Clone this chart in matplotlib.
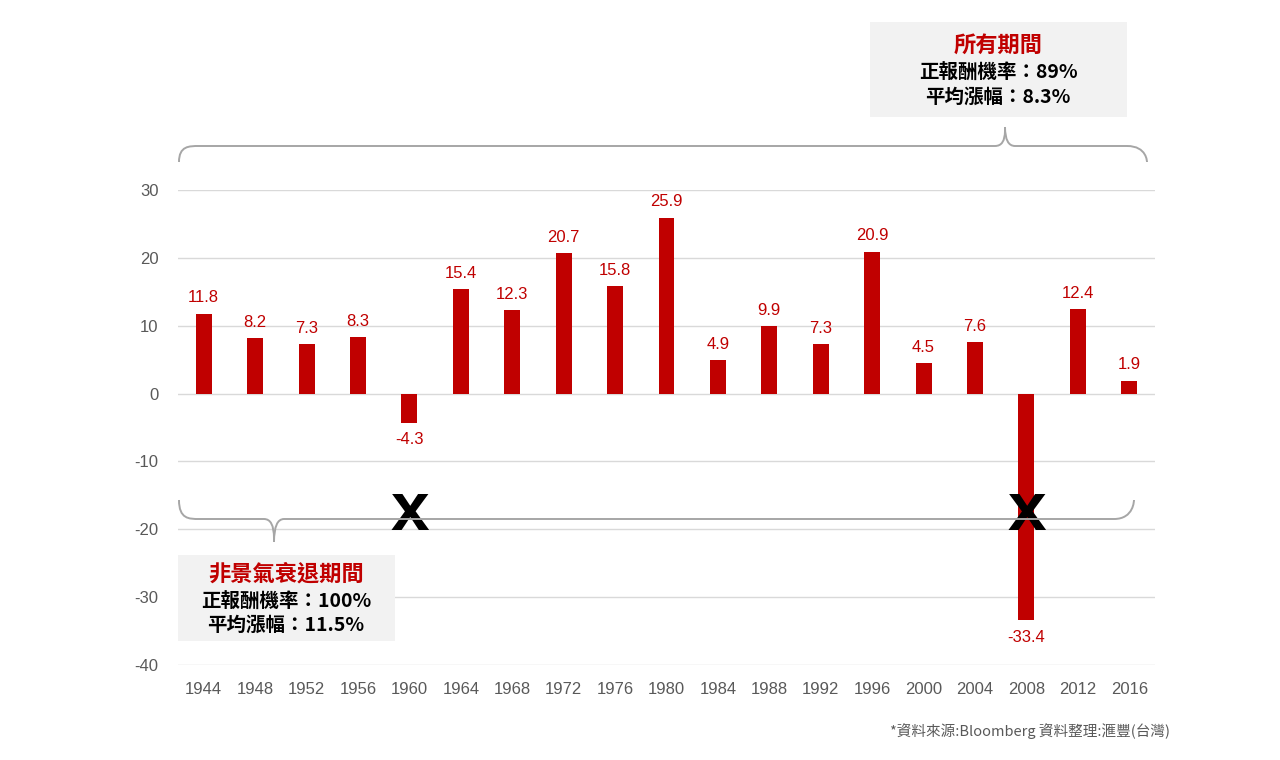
import numpy as np
import matplotlib.pyplot as plt
from matplotlib.path import Path
from matplotlib.patches import PathPatch, Rectangle

# Election years and S&P 500 annual returns (%)
years = ['1944', '1948', '1952', '1956', '1960', '1964', '1968', '1972', '1976', '1980',
         '1984', '1988', '1992', '1996', '2000', '2004', '2008', '2012', '2016']
returns = [11.8, 8.2, 7.3, 8.3, -4.3, 15.4, 12.3, 20.7, 15.8, 25.9,
           4.9, 9.9, 7.3, 20.9, 4.5, 7.6, -33.4, 12.4, 1.9]
recession_years = ['1960', '2008']

y_ticks = [30, 20, 10, 0, -10, -20, -30, -40]

all_title = '所有期間'
all_lines = ['正報酬機率：89%', '平均漲幅：8.3%']
nonrec_title = '非景氣衰退期間'
nonrec_lines = ['正報酬機率：100%', '平均漲幅：11.5%']
source_text = '*資料來源:Bloomberg 資料整理:滙豐(台灣)'

RED = '#c00000'
GRAY_TXT = '#595959'
BRACE = '#a6a6a6'
FONTS = ['Liberation Sans', 'Noto Sans CJK TC', 'DejaVu Sans']
CJK = ['Noto Sans CJK TC', 'Liberation Sans', 'DejaVu Sans']

plt.rcParams['font.family'] = FONTS
plt.rcParams['axes.unicode_minus'] = False

fig = plt.figure(figsize=(12.8, 7.6), dpi=100)
ax = fig.add_axes([178 / 1280, 1 - 665 / 760, (1155 - 178) / 1280, (665 - 190) / 760])

x = np.arange(len(years))
ax.bar(x, returns, width=0.31, color=RED, zorder=3)

for xi, v in zip(x, returns):
    if v >= 0:
        ax.annotate(f'{v:.1f}', (xi, v), xytext=(0, 6), textcoords='offset points',
                    ha='center', va='bottom', color=RED, fontsize=12)
    else:
        ax.annotate(f'{v:.1f}', (xi, v), xytext=(0, -7), textcoords='offset points',
                    ha='center', va='top', color=RED, fontsize=12)

ax.set_xlim(-0.5, len(years) - 0.5)
ax.set_ylim(-40, 30)
ax.set_yticks(y_ticks)
ax.set_xticks(x)
ax.set_xticklabels(years)
ax.tick_params(axis='both', length=0, labelsize=12, labelcolor=GRAY_TXT)
ax.tick_params(axis='x', pad=12)
ax.tick_params(axis='y', pad=14)
ax.grid(axis='y', color='#d9d9d9', linewidth=1, zorder=0)
for s in ax.spines.values():
    s.set_visible(False)

# big black "x" over the recession years
for yr in recession_years:
    ax.text(years.index(yr), -20.1, 'x', ha='center', va='baseline',
            fontsize=50, fontweight='bold', color='black', zorder=5,
            family=['Liberation Sans', 'DejaVu Sans'])

# overlay in pixel coordinates for braces and boxes
ov = fig.add_axes([0, 0, 1, 1], facecolor='none')
ov.set_xlim(0, 1280)
ov.set_ylim(760, 0)
ov.axis('off')


def brace(x0, x1, xt, y_line, y_end, y_tip, r=10):
    # curly brace: ends at y_end, line at y_line, tip at y_tip
    d_tip = np.sign(y_tip - y_line)
    verts = [(x0, y_end),
             (x0, y_line), (x0 + r, y_line), (x0 + 2 * r, y_line),
             (xt - r, y_line),
             (xt, y_line), (xt, y_tip - d_tip * 4), (xt, y_tip)]
    codes = [Path.MOVETO, Path.CURVE4, Path.CURVE4, Path.CURVE4,
             Path.LINETO, Path.CURVE3, Path.CURVE3, Path.LINETO]
    verts2 = [(xt, y_tip),
              (xt, y_line), (xt + r, y_line),
              (x1 - 2 * r, y_line),
              (x1, y_line), (x1, y_end), (x1, y_end)]
    codes2 = [Path.MOVETO, Path.CURVE3, Path.CURVE3, Path.LINETO,
              Path.CURVE4, Path.CURVE4, Path.CURVE4]
    for v, c in ((verts, codes), (verts2, codes2)):
        ov.add_patch(PathPatch(Path(v, c), facecolor='none', edgecolor=BRACE, lw=1.4))


brace(179, 1147, 1005, 146, 162, 127)
brace(179, 1134, 274, 519, 500, 542)

# info boxes
ov.add_patch(Rectangle((870, 22), 257, 95, facecolor='#f2f2f2', edgecolor='none'))
ov.text(998, 45, all_title, ha='center', va='center', color=RED, fontsize=16,
        fontweight='bold', family=CJK)
ov.text(998, 73, all_lines[0], ha='center', va='center', color='black', fontsize=14,
        fontweight='bold', family=CJK)
ov.text(998, 97, all_lines[1], ha='center', va='center', color='black', fontsize=14,
        fontweight='bold', family=CJK)

ov.add_patch(Rectangle((178, 555), 217, 86, facecolor='#f2f2f2', edgecolor='none'))
ov.text(286, 574, nonrec_title, ha='center', va='center', color=RED, fontsize=16,
        fontweight='bold', family=CJK)
ov.text(286, 602, nonrec_lines[0], ha='center', va='center', color='black', fontsize=14,
        fontweight='bold', family=CJK)
ov.text(286, 625, nonrec_lines[1], ha='center', va='center', color='black', fontsize=14,
        fontweight='bold', family=CJK)

ov.text(1170, 731, source_text, ha='right', va='center', color=GRAY_TXT, fontsize=10.5,
        family=CJK)

fig.savefig('out.png', dpi=100)
